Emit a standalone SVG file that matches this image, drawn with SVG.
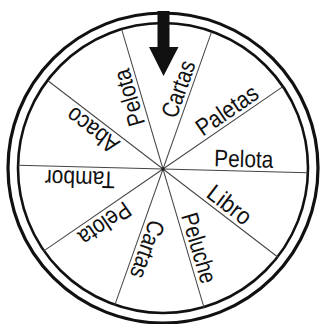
<svg xmlns="http://www.w3.org/2000/svg" width="320" height="324" viewBox="0 0 320 324">
<style>
.ring{fill:none;stroke:#111}
.spoke{stroke:#444;stroke-width:1}
.lbl{font-family:"Liberation Sans","DejaVu Sans",sans-serif;font-size:24px;fill:#111}
</style>
<rect width="320" height="324" fill="#fff"/>
<g id="wheel">
<circle class="ring" cx="163" cy="168" r="155" stroke-width="3.2"/>
<circle class="ring" cx="163" cy="168" r="145" stroke-width="2.6"/>
</g>
<g id="spokes">
<line class="spoke" x1="163" y1="169" x2="308" y2="169" transform="rotate(1.5 163 169)"/>
<line class="spoke" x1="163" y1="169" x2="308" y2="169" transform="rotate(37.5 163 169)"/>
<line class="spoke" x1="163" y1="169" x2="308" y2="169" transform="rotate(73.5 163 169)"/>
<line class="spoke" x1="163" y1="169" x2="308" y2="169" transform="rotate(109.5 163 169)"/>
<line class="spoke" x1="163" y1="169" x2="308" y2="169" transform="rotate(145.5 163 169)"/>
<line class="spoke" x1="163" y1="169" x2="308" y2="169" transform="rotate(181.5 163 169)"/>
<line class="spoke" x1="163" y1="169" x2="308" y2="169" transform="rotate(217.5 163 169)"/>
<line class="spoke" x1="163" y1="169" x2="308" y2="169" transform="rotate(253.5 163 169)"/>
<line class="spoke" x1="163" y1="169" x2="308" y2="169" transform="rotate(289.5 163 169)"/>
<line class="spoke" x1="163" y1="169" x2="308" y2="169" transform="rotate(325.5 163 169)"/>
<circle cx="163" cy="169" r="1.8" fill="#222"/>
</g>
<g id="labels">
<text id="l1" class="lbl" x="214" y="165" textLength="59" lengthAdjust="spacingAndGlyphs" transform="rotate(1.5 163 169)">Pelota</text>
<text id="l2" class="lbl" x="214" y="165" textLength="70" lengthAdjust="spacingAndGlyphs" transform="rotate(-34.5 163 169)">Paletas</text>
<text id="l3" class="lbl" x="214" y="165" textLength="59" lengthAdjust="spacingAndGlyphs" transform="rotate(-70.5 163 169)">Cartas</text>
<text id="l4" class="lbl" x="212" y="165" textLength="58" lengthAdjust="spacingAndGlyphs" transform="rotate(-106.5 163 169)">Pelota</text>
<text id="l5" class="lbl" x="213" y="165" textLength="59" lengthAdjust="spacingAndGlyphs" transform="rotate(217.5 163 169)">Abaco</text>
<text id="l6" class="lbl" x="211" y="165" textLength="70" lengthAdjust="spacingAndGlyphs" transform="rotate(181.5 163 169)">Tambor</text>
<text id="l7" class="lbl" x="213" y="165" textLength="58" lengthAdjust="spacingAndGlyphs" transform="rotate(145.5 163 169)">Pelota</text>
<text id="l8" class="lbl" x="214" y="165" textLength="60" lengthAdjust="spacingAndGlyphs" transform="rotate(109.5 163 169)">Cartas</text>
<text id="l9" class="lbl" x="213" y="165" textLength="72" lengthAdjust="spacingAndGlyphs" transform="rotate(73.5 163 169)">Peluche</text>
<text id="l10" class="lbl" x="213" y="165" textLength="49" lengthAdjust="spacingAndGlyphs" transform="rotate(37.5 163 169)">Libro</text>
</g>
<g id="pointer">
<polygon points="157.5,11 169.5,11 169.5,47 178.5,47 163.5,76 149,47 157.5,47" fill="#111"/>
</g>
</svg>
